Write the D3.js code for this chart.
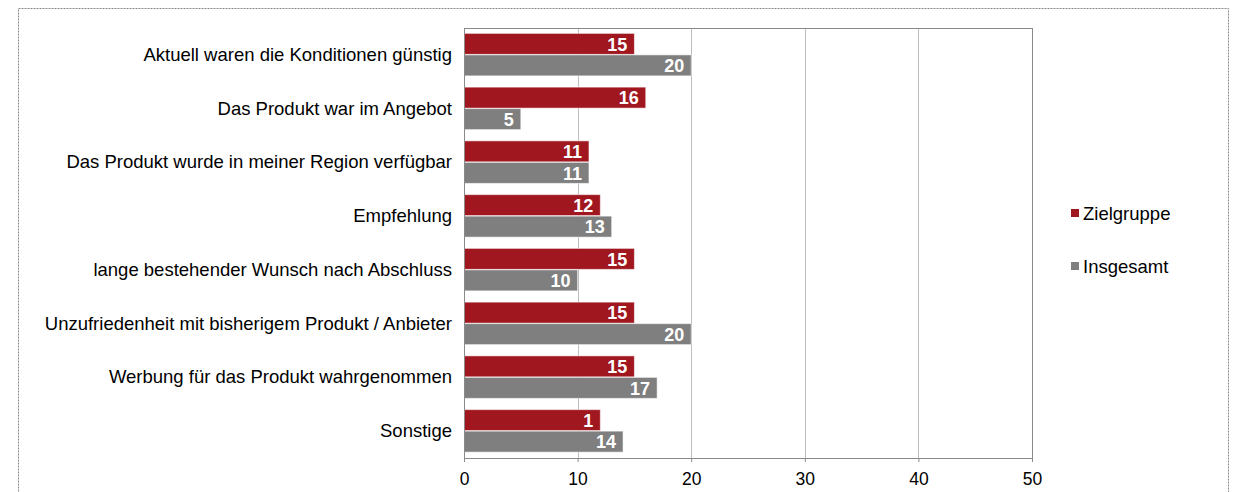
<!DOCTYPE html>
<html>
<head>
<meta charset="utf-8">
<title>Gründe</title>
<script src="https://d3js.org/d3.v7.min.js"></script>
<style>
  body { margin: 0; background: #fff; }
  text { font-family: "Liberation Sans", Arial, sans-serif; }
</style>
</head>
<body>
<div id="chart"></div>
<script>
// data
let categories = [
  "Aktuell waren die Konditionen günstig",
  "Das Produkt war im Angebot",
  "Das Produkt wurde in meiner Region verfügbar",
  "Empfehlung",
  "lange bestehender Wunsch nach Abschluss",
  "Unzufriedenheit mit bisherigem Produkt / Anbieter",
  "Werbung für das Produkt wahrgenommen",
  "Sonstige"
];
let seriesNames = ["Zielgruppe", "Insgesamt"];
let zielgruppe = [15, 16, 11, 12, 15, 15, 15, 12];
let insgesamt = [20, 5, 11, 13, 10, 20, 17, 14];
// printed labels (the Sonstige bar shows "1" in the original)
let zielgruppeLabels = ["15", "16", "11", "12", "15", "15", "15", "1"];
let insgesamtLabels = ["20", "5", "11", "13", "10", "20", "17", "14"];
let xTicks = [0, 10, 20, 30, 40, 50];
let colors = ["#a0171f", "#7f7f7f"];

let W = 1235, H = 492;
let margin = {top: 28, right: 203, bottom: 34, left: 464};
let w = W - margin.left - margin.right;
let h = H - margin.top - margin.bottom;

let svg = d3.select("#chart").append("svg")
  .attr("width", W).attr("height", H);

// dashed outer frame
svg.append("rect")
  .attr("x", 18.5).attr("y", 8.5)
  .attr("width", 1210).attr("height", 500)
  .attr("fill", "none")
  .attr("stroke", "#888")
  .attr("stroke-dasharray", "2,1");

let g = svg.append("g")
  .attr("transform", "translate(" + margin.left + "," + margin.top + ")");

let x = d3.scaleLinear().domain([0, 50]).range([0, w]);
let y = d3.scaleBand().domain(categories).range([0, h])
  .paddingInner(0.2).paddingOuter(0.1);
let sub = d3.scaleBand().domain(seriesNames).range([0, y.bandwidth()]);

// grid
g.selectAll(".grid").data(xTicks.slice(1, -1)).enter().append("line")
  .attr("x1", d => Math.round(x(d)) + 0.5).attr("x2", d => Math.round(x(d)) + 0.5)
  .attr("y1", 0).attr("y2", h)
  .attr("stroke", "#bdbdbd").attr("stroke-width", 1);

// plot box top and right
g.append("line").attr("x1", 0).attr("x2", w).attr("y1", 0.5).attr("y2", 0.5)
  .attr("stroke", "#8a8a8a");
g.append("line").attr("x1", w + 0.5).attr("x2", w + 0.5).attr("y1", 0).attr("y2", h)
  .attr("stroke", "#8a8a8a");

// bars
let rows = categories.map((c, i) => ({
  cat: c,
  vals: [
    {s: seriesNames[0], v: zielgruppe[i], l: zielgruppeLabels[i]},
    {s: seriesNames[1], v: insgesamt[i], l: insgesamtLabels[i]}
  ]
}));

let grp = g.selectAll(".cat").data(rows).enter().append("g")
  .attr("transform", d => "translate(0," + y(d.cat) + ")");

grp.selectAll("rect").data(d => d.vals).enter().append("rect")
  .attr("x", 0)
  .attr("y", d => sub(d.s))
  .attr("width", d => x(d.v))
  .attr("height", sub.bandwidth() - 0.5)
  .attr("fill", (d, i) => colors[i])
  .attr("stroke", "rgba(255,255,255,0.55)")
  .attr("stroke-width", 1);

grp.selectAll(".val").data(d => d.vals).enter().append("text")
  .attr("x", d => x(d.v) - 7)
  .attr("y", d => sub(d.s) + sub.bandwidth() / 2)
  .attr("dy", "0.36em")
  .attr("text-anchor", "end")
  .attr("fill", "#fff")
  .attr("font-weight", "bold")
  .attr("font-size", "18px")
  .text(d => d.l);

// axes
let xAxis = g.append("g")
  .attr("transform", "translate(0," + h + ")")
  .call(d3.axisBottom(x).tickValues(xTicks).tickSize(4).tickPadding(11));
xAxis.select(".domain").attr("stroke", "#8a8a8a");
xAxis.selectAll(".tick line").attr("stroke", "#8a8a8a");
xAxis.selectAll("text").attr("font-size", "17.5px").attr("fill", "#000")
  .attr("font-family", "'Liberation Sans', Arial, sans-serif");

let yAxis = g.append("g")
  .call(d3.axisLeft(y).tickSize(0).tickPadding(12));
yAxis.select(".domain").attr("stroke", "#8a8a8a");
yAxis.selectAll("text").attr("font-size", "18.5px").attr("fill", "#000")
  .attr("font-family", "'Liberation Sans', Arial, sans-serif");

// legend
let legend = svg.append("g").attr("transform", "translate(1071,213)");
let li = legend.selectAll("g").data(seriesNames).enter().append("g")
  .attr("transform", (d, i) => "translate(0," + i * 53 + ")");
li.append("rect").attr("x", 0).attr("y", -4).attr("width", 8).attr("height", 8)
  .attr("fill", (d, i) => colors[i]);
li.append("text").attr("x", 12).attr("dy", "0.36em")
  .attr("font-size", "18.5px").attr("fill", "#000").text(d => d);
</script>
</body>
</html>
